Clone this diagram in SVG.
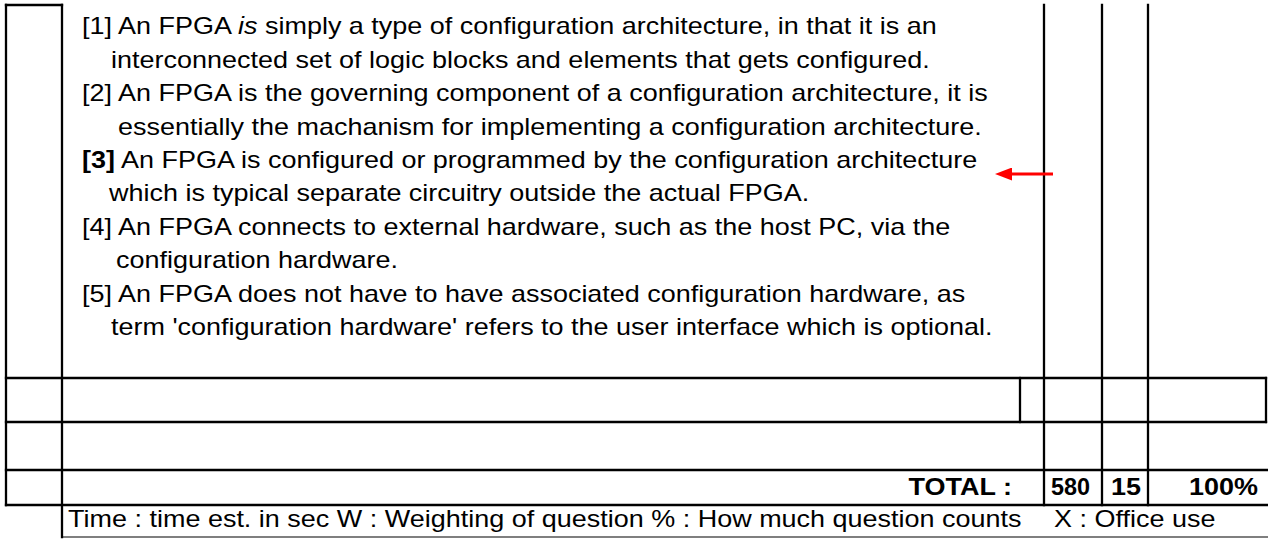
<svg xmlns="http://www.w3.org/2000/svg" width="1268" height="539" viewBox="0 0 1268 539">
  <style>
    .t { font-family: "Liberation Sans", Arial, sans-serif; font-size: 23.4px; fill: #000; white-space: pre; }
    .b { font-weight: bold; }
    .grid { stroke: #000; stroke-width: 2.3; fill: none; stroke-linecap: square; }
    .thin { stroke: #000; stroke-width: 1.2; fill: none; }
    .arrow { stroke: #ff0000; stroke-width: 3; fill: none; }
  </style>
  <defs>
    <marker id="redHead" markerUnits="userSpaceOnUse" markerWidth="17" markerHeight="13" refX="7" refY="6.5" orient="auto">
      <path d="M0,0 L17,6.5 L0,13 z" fill="#ff0000"/>
    </marker>
  </defs>
  <rect width="1268" height="539" fill="#fff"/>

  <g id="table-grid">
    <line class="grid" x1="6" y1="5" x2="62" y2="5"/>
    <line class="grid" x1="6" y1="5" x2="6" y2="505"/>
    <line class="grid" x1="62" y1="5" x2="62" y2="537"/>
    <line class="grid" x1="1044" y1="5" x2="1044" y2="505"/>
    <line class="grid" x1="1102" y1="5" x2="1102" y2="505"/>
    <line class="grid" x1="1148" y1="5" x2="1148" y2="505"/>
    <line class="grid" x1="6" y1="378" x2="1266" y2="378"/>
    <line class="grid" x1="6" y1="422" x2="1266" y2="422"/>
    <line class="grid" x1="6" y1="470" x2="1267" y2="470"/>
    <line class="grid" x1="6" y1="505" x2="1267" y2="505"/>
    <line class="grid" x1="1020" y1="378" x2="1020" y2="422"/>
    <line class="grid" x1="1266" y1="378" x2="1266" y2="422"/>
    <line class="thin" x1="62" y1="537" x2="1268" y2="537"/>
  </g>

  <g id="question-options">
    <text class="t" transform="translate(82,34) scale(1.153,1)">[1] An FPGA <tspan font-style="italic">is</tspan> simply a type of configuration architecture, in that it is an</text>
    <text class="t" transform="translate(111,68) scale(1.153,1)">interconnected set of logic blocks and elements that gets configured.</text>
    <text class="t" transform="translate(82,101) scale(1.153,1)">[2] An FPGA is the governing component of a configuration architecture, it is</text>
    <text class="t" transform="translate(118,135) scale(1.153,1)">essentially the machanism for implementing a configuration architecture.</text>
    <text class="t" transform="translate(82,168) scale(1.153,1)"><tspan class="b">[3]</tspan> An FPGA is configured or programmed by the configuration architecture</text>
    <text class="t" transform="translate(109,201) scale(1.153,1)">which is typical separate circuitry outside the actual FPGA.</text>
    <text class="t" transform="translate(82,235) scale(1.153,1)">[4] An FPGA connects to external hardware, such as the host PC, via the</text>
    <text class="t" transform="translate(116,268) scale(1.153,1)">configuration hardware.</text>
    <text class="t" transform="translate(82,302) scale(1.153,1)">[5] An FPGA does not have to have associated configuration hardware, as</text>
    <text class="t" transform="translate(111,335) scale(1.153,1)">term 'configuration hardware' refers to the user interface which is optional.</text>
  </g>

  <g id="total-row">
    <text class="t b" text-anchor="end" transform="translate(1012,495) scale(1.153,1)">TOTAL :</text>
    <text class="t b" text-anchor="end" transform="translate(1090,495) scale(1.0,1)">580</text>
    <text class="t b" text-anchor="end" transform="translate(1141,495) scale(1.153,1)">15</text>
    <text class="t b" text-anchor="end" transform="translate(1258,495) scale(1.153,1)">100%</text>
  </g>

  <g id="footer-legend">
    <text class="t" transform="translate(68,527) scale(1.153,1)">Time : time est. in sec W : Weighting of question % : How much question counts</text>
    <text class="t" transform="translate(1054,527) scale(1.153,1)">X : Office use</text>
  </g>

  <g id="connectors">
    <line class="arrow" x1="1053" y1="174" x2="1005" y2="174" marker-end="url(#redHead)"/>
  </g>
</svg>
